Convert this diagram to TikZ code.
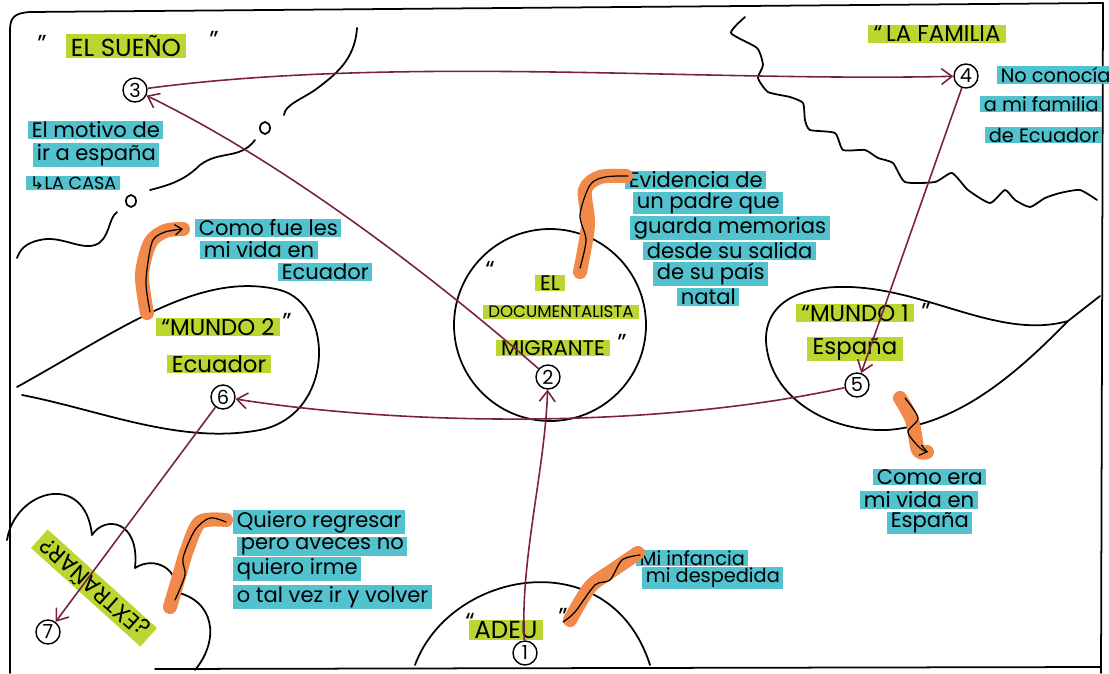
\documentclass[tikz,border=0pt]{standalone}
\usepackage{fontspec}
\setmainfont{Poppins}
\newfontfamily\symf{DejaVu Sans}
\usetikzlibrary{arrows.meta}
\definecolor{hlgreen}{HTML}{BBD631}
\definecolor{hlcyan}{HTML}{52C2CF}
\definecolor{hlorange}{HTML}{F0894A}
\definecolor{wine}{HTML}{7A1F45}
\begin{document}
\begin{tikzpicture}[x=0.02cm,y=-0.02cm,
 num/.style={draw=black,circle,line width=0.8pt,inner sep=0pt,minimum size=0.48cm,font=\fontsize{11}{11}\selectfont},
 cy/.style={fill=hlcyan,inner xsep=2pt,inner ysep=0.5pt,anchor=west,font=\fontsize{12}{13}\selectfont},
 gr/.style={fill=hlgreen,inner xsep=3pt,inner ysep=0.5pt,font=\fontsize{14}{15}\selectfont},
 qt/.style={font=\fontsize{14}{15}\selectfont},
 link/.style={wine,line width=0.9pt,-{Straight Barb[length=6pt,width=9pt]}},
 ink/.style={black,line width=1pt,line cap=round,line join=round},
 brush/.style={hlorange,line width=8pt,line cap=round,line join=round},
 pen/.style={black,line width=0.7pt,line cap=round},
]
\useasboundingbox (0,0) rectangle (1109,673);
% frame
\draw[ink] (10,673) -- (10,30) .. controls (10,17) and (15,13) .. (30,12) -- (1103,3) -- (1101,673);
\draw[ink] (155,669) -- (1101,667);
% dream line (top left)
\draw[ink] (357,28) .. controls (355,60) and (335,75) .. (315,90) .. controls (300,100) and (285,105) .. (284,115);
\draw[ink] (265,128) ellipse [x radius=5, y radius=6];
\draw[ink] (255,140) .. controls (240,160) and (220,150) .. (200,165) .. controls (185,180) and (170,185) .. (150,190);
\draw[ink] (131,201) ellipse [x radius=5, y radius=6];
\draw[ink] (117,212) .. controls (108,218) and (110,240) .. (95,245) .. controls (80,250) and (60,235) .. (40,240) .. controls (25,243) and (20,250) .. (17,258);
% zigzag (top right)
\draw[ink] plot[smooth,tension=0.35] coordinates {(745,17) (731,33) (757,48) (763,65) (758,78) (768,92) (790,97) (803,103) (805,120) (810,130) (835,133) (843,150) (865,150) (878,158) (893,163) (905,182) (935,182) (952,173) (968,190) (990,203) (1005,190) (1015,200) (1030,207) (1045,198) (1060,193) (1080,190) (1097,200)};
% worlds
\draw[ink] (17,387) .. controls (120,330) and (200,270) .. (280,290) .. controls (335,305) and (335,415) .. (260,430) .. controls (180,445) and (100,410) .. (22,395);
\draw[ink] (1100,296) -- (1068,321) .. controls (1000,340) and (930,290) .. (850,287) .. controls (790,285) and (760,310) .. (767,350) .. controls (775,400) and (830,432) .. (887,430) .. controls (960,425) and (1020,370) .. (1068,321);
\draw[ink] (550,325) circle [radius=96];
\draw[ink] (415,665) .. controls (450,570) and (610,540) .. (650,665);
% cloud
\draw[ink] (7,540) .. controls (15,490) and (85,470) .. (92,535) .. controls (105,515) and (140,520) .. (135,568) .. controls (155,555) and (180,570) .. (175,592) .. controls (215,600) and (220,640) .. (195,670);
% headings
\node[qt] (q1) at (42,44) {”};
\node[gr] (sueno) at (126,46) {EL SUEÑO};
\node[qt] (q2) at (214,40) {”};
\node[gr,font=\fontsize{13}{14}\selectfont] (familia) at (937,34) {“\,LA FAMILIA};
% numbers
\node[num] (n1) at (525,653) {1};
\node[num] (n2) at (548,377) {2};
\node[num] (n3) at (135,90) {3};
\node[num] (n4) at (966,76) {4};
\node[num] (n5) at (857,385) {5};
\node[num] (n6) at (223,397) {6};
\node[num] (n7) at (48,632) {7};
% motivo
\node[cy] (m1) at (28,130) {El motivo de};
\node[cy] (m2) at (33,155) {ir a españa};
\node[cy,font=\fontsize{10}{11}\selectfont] (m3) at (26,183) {{\symf ↳}LA CASA};
% familia
\node[cy,font=\fontsize{11}{12}\selectfont] (f1) at (997,75) {No conocía};
\node[cy,font=\fontsize{11}{12}\selectfont] (f2) at (980,104) {a mi familia};
\node[cy,font=\fontsize{11}{12}\selectfont] (f3) at (985,135) {de Ecuador};
% como fue
\node[cy] (c1) at (195,228) {Como fue les};
\node[cy] (c2) at (200,250) {mi vida en};
\node[cy] (c3) at (278,272) {Ecuador};
% center
\node[qt] (q3) at (490,270) {“};
\node[gr,font=\fontsize{12}{13}\selectfont] (el) at (550,283) {EL};
\node[gr,font=\fontsize{9.5}{10}\selectfont] (doc) at (561,312) {DOCUMENTALISTA};
\node[gr,font=\fontsize{12}{13}\selectfont] (mig) at (553,348) {MIGRANTE};
\node[qt] (q4) at (622,343) {”};
% evidencia
\node[cy] (e1) at (625,180) {Evidencia de};
\node[cy] (e2) at (633,203) {un padre que};
\node[cy] (e3) at (630,228) {guarda memorias};
\node[cy] (e4) at (643,251) {desde su salida};
\node[cy] (e5) at (653,274) {de su país};
\node[cy] (e6) at (677,297) {natal};
% mundo 2
\node[gr,font=\fontsize{13}{14}\selectfont] (mu2) at (218,327) {“MUNDO 2};
\node[qt] (q5) at (287,322) {”};
\node[gr,font=\fontsize{13}{14}\selectfont] (ecu) at (219,364) {Ecuador};
% mundo 1
\node[gr,font=\fontsize{13}{14}\selectfont] (mu1) at (855,313) {“MUNDO 1};
\node[qt] (q6) at (926,312) {”};
\node[gr,font=\fontsize{13}{14}\selectfont] (esp) at (855,349) {España};
% como era
\node[cy] (r1) at (873,477) {Como era};
\node[cy] (r2) at (860,500) {mi vida en};
\node[cy] (r3) at (887,523) {España};
% quiero
\node[cy] (w1) at (233,522) {Quiero regresar};
\node[cy] (w2) at (237,546) {pero aveces no};
\node[cy] (w3) at (233,569) {quiero irme};
\node[cy] (w4) at (233,597) {o tal vez ir y volver};
% infancia
\node[cy,font=\fontsize{11}{12}\selectfont] (i1) at (636,558) {Mi infancia};
\node[cy,font=\fontsize{11}{12}\selectfont] (i2) at (642,578) {mi despedida};
% adeu
\node[qt] (q7) at (470,622) {“};
\node[gr] (adeu) at (506,630) {ADEU};
\node[qt] (q8) at (563,617) {”};
% extranar
\node[gr,rotate=138,font=\fontsize{13}{14}\selectfont] (extr) at (94,588) {¿EXTRAÑAR?};
% brushes
\draw[brush] plot[smooth] coordinates {(147,313) (142,275) (150,243) (165,231) (183,229)};
\draw[pen,-{Straight Barb[length=4pt,width=6pt]}] plot[smooth] coordinates {(150,312) (146,285) (148,262) (153,240) (165,232) (183,229)};
\draw[brush] plot[smooth] coordinates {(580,272) (588,225) (585,190) (600,177) (626,176)};
\draw[pen] plot[smooth] coordinates {(580,268) (586,240) (580,215) (590,185) (605,177) (628,176)};
\draw[brush] plot[smooth] coordinates {(900,398) (912,420) (918,450) (927,452)};
\draw[pen,-{Straight Barb[length=4pt,width=6pt]}] plot[smooth] coordinates {(905,398) (918,418) (908,432) (920,448) (928,452)};
\draw[brush] plot[smooth] coordinates {(170,607) (180,573) (187,550) (200,522) (226,520)};
\draw[pen] plot[smooth] coordinates {(175,600) (185,575) (183,558) (195,530) (210,518) (226,522)};
\draw[brush] plot[smooth] coordinates {(570,620) (590,587) (613,570) (638,553)};
\draw[pen] plot[smooth] coordinates {(563,622) (575,612) (595,585) (610,580) (622,560) (640,555)};
% connectors
\draw[link] (n3) .. controls (400,55) and (700,82) .. (n4);
\draw[link] (n2) .. controls (460,300) and (300,170) .. (n3);
\draw[link] (n4) -- (n5);
\draw[link] (n5) .. controls (650,430) and (400,425) .. (n6);
\draw[link] (n6) -- (n7);
\draw[link] (n1) .. controls (520,560) and (545,470) .. (n2);
\end{tikzpicture}
\end{document}
